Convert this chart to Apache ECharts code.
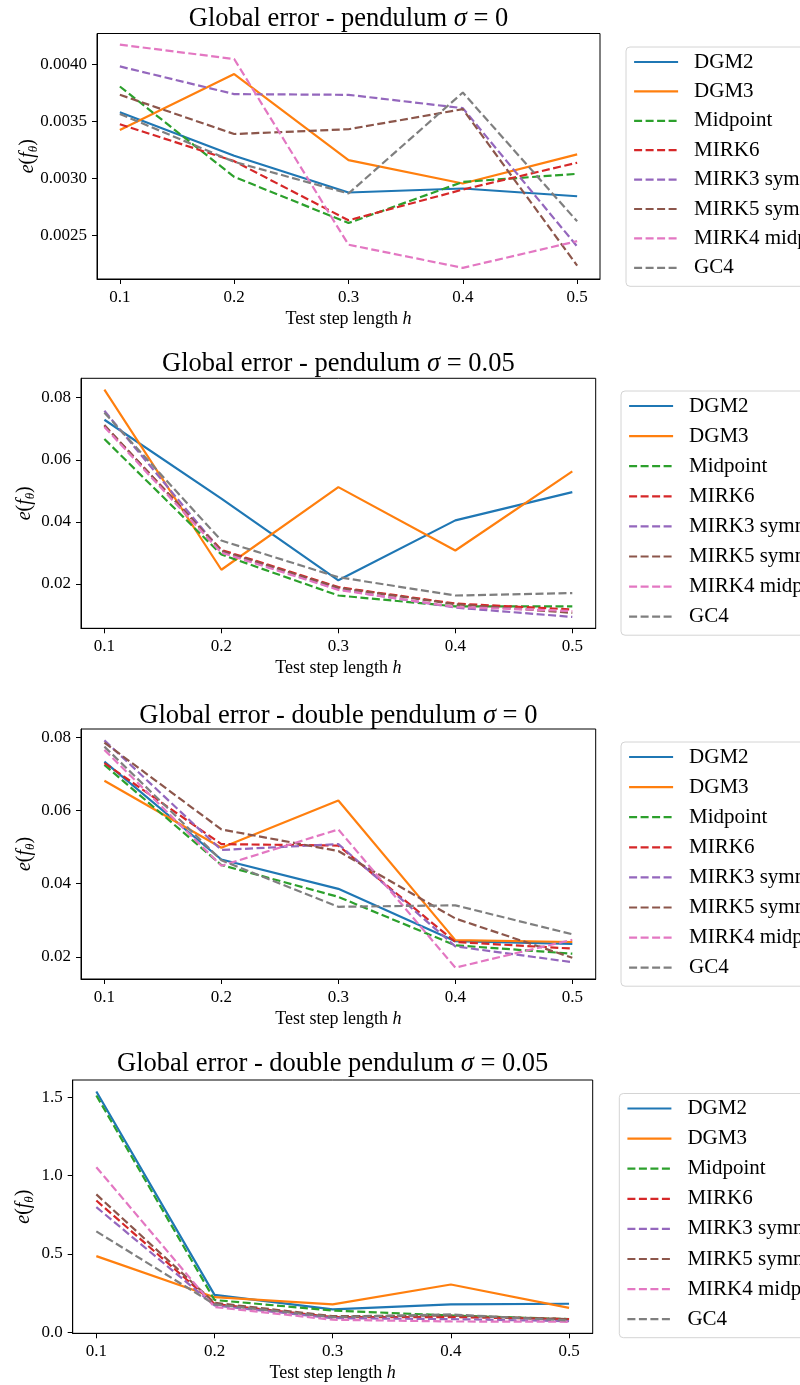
<!DOCTYPE html>
<html>
<head>
<meta charset="utf-8">
<script src="https://cdn.jsdelivr.net/npm/echarts@6/dist/echarts.min.js"></script>
<style>
  html, body { margin: 0; padding: 0; background: #fff; }
  #chart { width: 800px; height: 1385px; }
</style>
</head>
<body>
<div id="chart"></div>
<script>
// Test step lengths h (x axis)
const steps = [0.1, 0.2, 0.3, 0.4, 0.5];
const methods = ['DGM2', 'DGM3', 'Midpoint', 'MIRK6', 'MIRK3 symmetric', 'MIRK5 symmetric', 'MIRK4 midpoint', 'GC4'];
const colors = ['#1f77b4', '#ff7f0e', '#2ca02c', '#d62728', '#9467bd', '#8c564b', '#e377c2', '#7f7f7f'];
const dashed = [false, false, true, true, true, true, true, true];

// Global error e(f_theta); one row per method (order of `methods`), one column per step
const pendulumSigma0 = [
  [0.003583, 0.003201, 0.002879, 0.002914, 0.002846],
  [0.003427, 0.003918, 0.003163, 0.002958, 0.003213],
  [0.003809, 0.003016, 0.002611, 0.002972, 0.003043],
  [0.003478, 0.003154, 0.002635, 0.002905, 0.003140],
  [0.003985, 0.003742, 0.003736, 0.003619, 0.002406],
  [0.003736, 0.003392, 0.003434, 0.003610, 0.002238],
  [0.004176, 0.004050, 0.002421, 0.002218, 0.002452],
  [0.003568, 0.003148, 0.002870, 0.003756, 0.002626]
];
const pendulumSigma005 = [
  [0.0729, 0.0475, 0.0212, 0.0405, 0.0496],
  [0.0826, 0.0246, 0.0512, 0.0308, 0.0563],
  [0.0667, 0.0295, 0.0163, 0.0128, 0.0128],
  [0.0710, 0.0310, 0.0190, 0.0137, 0.0118],
  [0.0758, 0.0304, 0.0183, 0.0124, 0.0094],
  [0.0712, 0.0307, 0.0188, 0.0135, 0.0107],
  [0.0706, 0.0301, 0.0181, 0.0126, 0.0113],
  [0.0752, 0.0340, 0.0222, 0.0163, 0.0171]
];
const doublePendulumSigma0 = [
  [0.0733, 0.0466, 0.0386, 0.0243, 0.0236],
  [0.0681, 0.0498, 0.0627, 0.0246, 0.0241],
  [0.0724, 0.0451, 0.0364, 0.0232, 0.0209],
  [0.0729, 0.0508, 0.0504, 0.0241, 0.0223],
  [0.0791, 0.0492, 0.0508, 0.0229, 0.0186],
  [0.0785, 0.0548, 0.0489, 0.0305, 0.0198],
  [0.0765, 0.0449, 0.0548, 0.0171, 0.0247],
  [0.0774, 0.0464, 0.0337, 0.0341, 0.0262]
];
const doublePendulumSigma005 = [
  [1.536, 0.238, 0.145, 0.177, 0.181],
  [0.485, 0.223, 0.177, 0.304, 0.155],
  [1.511, 0.205, 0.138, 0.106, 0.083],
  [0.840, 0.180, 0.096, 0.096, 0.083],
  [0.798, 0.170, 0.089, 0.083, 0.070],
  [0.879, 0.187, 0.102, 0.106, 0.083],
  [1.053, 0.160, 0.079, 0.068, 0.066],
  [0.643, 0.177, 0.096, 0.113, 0.074]
];

// Y tick labels of each panel
const yTicksPendulum0 = [0.0025, 0.0030, 0.0035, 0.0040];
const yTicksPendulum005 = [0.02, 0.04, 0.06, 0.08];
const yTicksDouble0 = [0.02, 0.04, 0.06, 0.08];
const yTicksDouble005 = [0.0, 0.5, 1.0, 1.5];

const FONT = '"Liberation Serif", "DejaVu Serif", serif';

const panels = [
  { title: 'Global error - pendulum {s|σ} = 0', data: pendulumSigma0, ticks: yTicksPendulum0, dec: 4,
    grid: { left: 97, top: 33.5, width: 503, height: 245.5 }, legend: { left: 626, top: 47, gap: 8.4 }, titleTop: 6, yGap: 69 },
  { title: 'Global error - pendulum {s|σ} = 0.05', data: pendulumSigma005, ticks: yTicksPendulum005, dec: 2,
    grid: { left: 81, top: 378.3, width: 514.7, height: 250 }, legend: { left: 621, top: 391, gap: 9.1 }, titleTop: 351, yGap: 56 },
  { title: 'Global error - double pendulum {s|σ} = 0', data: doublePendulumSigma0, ticks: yTicksDouble0, dec: 2,
    grid: { left: 81, top: 729, width: 514.7, height: 250 }, legend: { left: 621, top: 742, gap: 9.1 }, titleTop: 703, yGap: 56 },
  { title: 'Global error - double pendulum {s|σ} = 0.05', data: doublePendulumSigma005, ticks: yTicksDouble005, dec: 1,
    grid: { left: 72.7, top: 1080, width: 520, height: 253.3 }, legend: { left: 619.3, top: 1093.5, gap: 9.1 }, titleTop: 1051, yGap: 49 }
];

// Axis limits with a 5% margin around the plotted values
function paddedRange(rows) {
  let mn = Infinity, mx = -Infinity;
  rows.forEach(r => r.forEach(v => { mn = Math.min(mn, v); mx = Math.max(mx, v); }));
  const pad = (mx - mn) * 0.05;
  return [mn - pad, mx + pad];
}

const textBase = { fontFamily: FONT, color: '#000' };

const grids = [], xAxes = [], yAxes = [], series = [], legends = [], graphics = [];

panels.forEach((p, k) => {
  grids.push(Object.assign({
    show: true, borderColor: '#000', borderWidth: 1, backgroundColor: 'transparent',
    containLabel: false, outerBoundsMode: 'none'
  }, p.grid));

  xAxes.push({
    type: 'value', gridIndex: k, min: 0.08, max: 0.52,
    axisLine: { show: true, onZero: false, lineStyle: { color: '#000', width: 1 } },
    axisTick: { show: true, length: 5, customValues: steps, lineStyle: { color: '#000', width: 1 } },
    axisLabel: { customValues: steps, formatter: v => v.toFixed(1), fontSize: 17, margin: 10, ...textBase },
    splitLine: { show: false },
    name: 'Test step length {i|h}', nameLocation: 'middle', nameGap: 31, nameMoveOverlap: false,
    nameTextStyle: { fontSize: 18, ...textBase, rich: { i: { fontSize: 18, fontStyle: 'italic', fontFamily: FONT, color: '#000' } } }
  });

  const [ymin, ymax] = paddedRange(p.data);
  yAxes.push({
    type: 'value', gridIndex: k, min: ymin, max: ymax,
    axisLine: { show: true, onZero: false, lineStyle: { color: '#000', width: 1 } },
    axisTick: { show: true, length: 5, customValues: p.ticks, lineStyle: { color: '#000', width: 1 } },
    axisLabel: { customValues: p.ticks, formatter: v => v.toFixed(p.dec), fontSize: 17, margin: 10, ...textBase },
    splitLine: { show: false },
    name: '{i|e}({i|f}{sub|θ})', nameLocation: 'middle', nameRotate: 90, nameGap: p.yGap, nameMoveOverlap: false,
    nameTextStyle: {
      fontSize: 20, ...textBase, lineHeight: 24, verticalAlign: 'middle',
      rich: {
        i: { fontSize: 20, fontStyle: 'italic', fontFamily: FONT, color: '#000', lineHeight: 24, verticalAlign: 'middle' },
        sub: { fontSize: 13, fontStyle: 'italic', fontFamily: FONT, color: '#000', lineHeight: 24, verticalAlign: 'bottom' }
      }
    }
  });

  p.data.forEach((vals, m) => {
    series.push({
      type: 'line', name: methods[m], xAxisIndex: k, yAxisIndex: k,
      data: steps.map((h, i) => [h, vals[i]]),
      symbol: 'none', silent: true,
      lineStyle: { color: colors[m], width: 2.2, type: dashed[m] ? [8, 3.5] : 'solid' },
      itemStyle: { color: colors[m] },
      z: 2 + m
    });
  });

  legends.push({
    data: methods, orient: 'vertical', left: p.legend.left, top: p.legend.top,
    itemWidth: 44, itemHeight: 14, itemGap: p.legend.gap, padding: [4.5, 8, 8, 7],
    borderColor: '#d4d4d4', borderWidth: 1, borderRadius: 4, backgroundColor: '#fff',
    selectedMode: false,
    itemStyle: { opacity: 0 },
    lineStyle: { width: 2.2 },
    textStyle: { fontSize: 21, ...textBase, padding: [0, 0, 0, 11] }
  });

  graphics.push({
    type: 'text', x: p.grid.left + p.grid.width / 2, y: p.titleTop,
    style: {
      text: p.title, fill: '#000', font: '26.5px ' + FONT, align: 'center', verticalAlign: 'top',
      rich: { s: { fontStyle: 'italic', fontSize: 26.5, fontFamily: FONT, fill: '#000' } }
    }
  });
});

const chart = echarts.init(document.getElementById('chart'), null, { renderer: 'canvas' });
chart.setOption({
  animation: false,
  backgroundColor: '#fff',
  grid: grids,
  xAxis: xAxes,
  yAxis: yAxes,
  legend: legends,
  series: series,
  graphic: graphics
});
</script>
</body>
</html>
